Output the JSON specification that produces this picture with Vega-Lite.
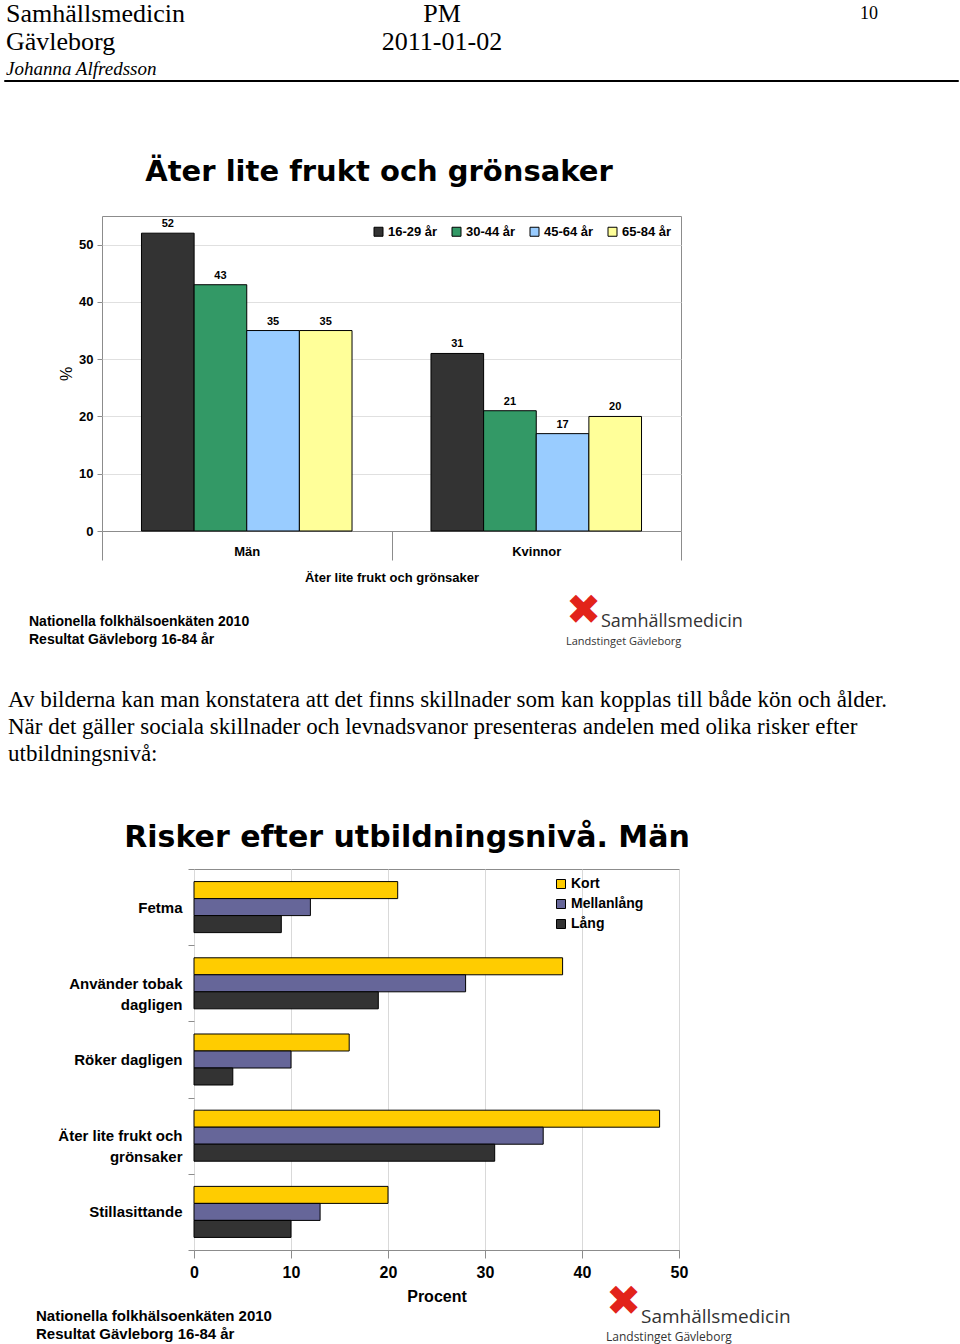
{
  "$schema": "https://vega.github.io/schema/vega-lite/v6.json",
  "padding": {"left": 3, "top": 0, "right": 0, "bottom": 0},
  "bounds": "flush",
  "spacing": 0,
  "config": {"view": {"stroke": null}, "font": "Liberation Sans"},
  "resolve": {"scale": {"color": "independent"}, "legend": {"color": "independent"}},
  "vconcat": [
    {
      "width": 954, "height": 80,
      "data": {"values": [
        {"part": "name", "col": "left", "line": 1, "text": "Samhällsmedicin"},
        {"part": "name", "col": "left", "line": 2, "text": "Gävleborg"},
        {"part": "author", "col": "left", "line": 3, "text": "Johanna Alfredsson"},
        {"part": "doc", "col": "center", "line": 1, "text": "PM"},
        {"part": "doc", "col": "center", "line": 2, "text": "2011-01-02"},
        {"part": "page", "col": "right", "line": 1, "text": "10"}
      ]},
      "encoding": {
        "x": {"field": "col", "type": "nominal", "scale": {"type": "point", "domain": ["left", "center", "right"], "range": [2, 874], "padding": 0}, "axis": null},
        "y": {"field": "line", "type": "ordinal", "scale": {"type": "point", "domain": [1, 2, 3], "range": [14, 69], "padding": 0}, "axis": null},
        "text": {"field": "text"}
      },
      "layer": [
        {"transform": [{"filter": "datum.part == 'name'"}], "mark": {"type": "text", "align": "left", "baseline": "middle", "font": "Liberation Serif", "fontSize": 26, "color": "black"}},
        {"transform": [{"filter": "datum.part == 'author'"}], "mark": {"type": "text", "align": "left", "baseline": "middle", "font": "Liberation Serif", "fontSize": 19, "fontStyle": "italic", "color": "black"}},
        {"transform": [{"filter": "datum.part == 'doc'"}], "mark": {"type": "text", "align": "center", "baseline": "middle", "font": "Liberation Serif", "fontSize": 26, "color": "black"}},
        {"transform": [{"filter": "datum.part == 'page'"}], "mark": {"type": "text", "align": "right", "baseline": "middle", "font": "Liberation Serif", "fontSize": 18, "color": "black"}}
      ]
    },
    {
      "width": 954, "height": 1,
      "data": {"values": []},
      "mark": "rect",
      "encoding": {},
      "view": {"stroke": "black", "strokeWidth": 1}
    },
    {
      "width": 954, "height": 135,
      "data": {"values": [{"col": "c", "line": 1, "text": "Äter lite frukt och grönsaker"}]},
      "mark": {"type": "text", "align": "center", "baseline": "middle", "font": "DejaVu Sans", "fontWeight": "bold", "fontSize": 29, "color": "black"},
      "encoding": {
        "x": {"field": "col", "type": "nominal", "scale": {"type": "point", "domain": ["c"], "range": [375, 375]}, "axis": null},
        "y": {"field": "line", "type": "ordinal", "scale": {"type": "point", "domain": [1], "range": [91, 91]}, "axis": null},
        "text": {"field": "text"}
      }
    },
    {
      "spacing": 0,
      "bounds": "flush",
      "resolve": {"scale": {"color": "independent"}, "legend": {"color": "independent"}},
      "hconcat": [
        {"width": 98, "height": 315, "data": {"values": []}, "mark": "rect", "encoding": {}},
        {
          "width": 579, "height": 315,
          "view": {"stroke": "#8c8c8c", "strokeWidth": 1},
          "data": {"values": [
            {"sex": "Män", "age": "16-29 år", "pct": 52},
            {"sex": "Män", "age": "30-44 år", "pct": 43},
            {"sex": "Män", "age": "45-64 år", "pct": 35},
            {"sex": "Män", "age": "65-84 år", "pct": 35},
            {"sex": "Kvinnor", "age": "16-29 år", "pct": 31},
            {"sex": "Kvinnor", "age": "30-44 år", "pct": 21},
            {"sex": "Kvinnor", "age": "45-64 år", "pct": 17},
            {"sex": "Kvinnor", "age": "65-84 år", "pct": 20}
          ]},
          "encoding": {
            "x": {"field": "sex", "type": "nominal", "sort": ["Män", "Kvinnor"], "scale": {"paddingInner": 0, "paddingOuter": 0},
              "axis": {"title": "Äter lite frukt och grönsaker", "labelAngle": 0, "tickBand": "extent", "tickSize": 29, "tickColor": "#8c8c8c", "domainColor": "#8c8c8c", "labelPadding": -15, "labelFontSize": 13, "labelFontWeight": "bold", "labelColor": "black", "titleFontSize": 13, "titleFontWeight": "bold", "titleColor": "black", "titlePadding": 11}},
            "xOffset": {"field": "age", "type": "nominal", "sort": ["16-29 år", "30-44 år", "45-64 år", "65-84 år"], "scale": {"paddingOuter": 0.75, "paddingInner": 0}},
            "y": {"field": "pct", "type": "quantitative", "scale": {"domain": [0, 55], "nice": false},
              "axis": {"values": [0, 10, 20, 30, 40, 50], "title": "%", "titleFontSize": 16, "titleFontWeight": "normal", "titleColor": "black", "titlePadding": 4, "labelFontSize": 13, "labelFontWeight": "bold", "labelColor": "black", "labelPadding": 4, "tickSize": 5, "tickColor": "#8c8c8c", "domain": false, "grid": true, "gridColor": "#e0e0e0"}}
          },
          "layer": [
            {
              "mark": {"type": "bar", "stroke": "black", "strokeWidth": 1},
              "encoding": {
                "color": {"field": "age", "type": "nominal",
                  "scale": {"domain": ["16-29 år", "30-44 år", "45-64 år", "65-84 år"], "range": ["#333333", "#339966", "#99ccff", "#ffff99"]},
                  "legend": {"orient": "top-right", "direction": "horizontal", "title": null, "offset": 9, "symbolType": "square", "symbolSize": 81, "symbolStrokeColor": "black", "symbolStrokeWidth": 1, "labelFontSize": 13, "labelFontWeight": "bold", "labelColor": "black", "columnPadding": 12, "labelOffset": 3}}
              }
            },
            {
              "mark": {"type": "text", "dy": -9, "fontSize": 11, "fontWeight": "bold", "color": "black"},
              "encoding": {"text": {"field": "pct", "type": "quantitative"}}
            }
          ]
        }
      ]
    },
    {
      "width": 954, "height": 449,
      "data": {"values": [
        {"part": "note", "col": "note", "line": 1, "text": "Nationella folkhälsoenkäten 2010"},
        {"part": "note", "col": "note", "line": 2, "text": "Resultat Gävleborg 16-84 år"},
        {"part": "sym", "col": "logo", "line": 1, "text": "✖"},
        {"part": "logo", "col": "logo", "line": 1, "text": "Samhällsmedicin"},
        {"part": "logosub", "col": "logo", "line": 2, "text": "Landstinget Gävleborg"}
      ]},
      "encoding": {
        "x": {"field": "col", "type": "nominal", "scale": {"type": "point", "domain": ["note", "logo"], "range": [25, 562], "padding": 0}, "axis": null},
        "y": {"field": "line", "type": "ordinal", "scale": {"type": "point", "domain": [1, 2], "range": [406, 424], "padding": 0}, "axis": null},
        "text": {"field": "text"}
      },
      "layer": [
        {"transform": [{"filter": "datum.part == 'note'"}], "mark": {"type": "text", "align": "left", "baseline": "middle", "fontSize": 14, "fontWeight": "bold", "color": "black"}},
        {"transform": [{"filter": "datum.part == 'sym'"}], "mark": {"type": "text", "align": "left", "baseline": "middle", "dy": -11, "font": "DejaVu Sans", "fontSize": 42, "color": "#e2231a"}},
        {"transform": [{"filter": "datum.part == 'logo'"}], "mark": {"type": "text", "align": "left", "baseline": "middle", "dx": 35, "font": "Open Sans", "fontSize": 18, "color": "#333333"}},
        {"transform": [{"filter": "datum.part == 'logosub'"}], "mark": {"type": "text", "align": "left", "baseline": "middle", "dy": 2, "font": "Open Sans", "fontSize": 11, "color": "#333333"}}
      ]
    },
    {
      "width": 954, "height": 115,
      "data": {"values": [
        {"col": "p", "line": 1, "text": "Av bilderna kan man konstatera att det finns skillnader som kan kopplas till både kön och ålder."},
        {"col": "p", "line": 2, "text": "När det gäller sociala skillnader och levnadsvanor presenteras andelen med olika risker efter"},
        {"col": "p", "line": 3, "text": "utbildningsnivå:"}
      ]},
      "mark": {"type": "text", "align": "left", "baseline": "middle", "font": "Liberation Serif", "fontSize": 23, "color": "black"},
      "encoding": {
        "x": {"field": "col", "type": "nominal", "scale": {"type": "point", "domain": ["p"], "range": [4, 4]}, "axis": null},
        "y": {"field": "line", "type": "ordinal", "scale": {"type": "point", "domain": [1, 2, 3], "range": [35, 89], "padding": 0}, "axis": null},
        "text": {"field": "text"}
      }
    },
    {
      "width": 954, "height": 89,
      "data": {"values": [{"col": "c", "line": 1, "text": "Risker efter utbildningsnivå. Män"}]},
      "mark": {"type": "text", "align": "center", "baseline": "middle", "font": "DejaVu Sans", "fontWeight": "bold", "fontSize": 30, "color": "black"},
      "encoding": {
        "x": {"field": "col", "type": "nominal", "scale": {"type": "point", "domain": ["c"], "range": [403, 403]}, "axis": null},
        "y": {"field": "line", "type": "ordinal", "scale": {"type": "point", "domain": [1], "range": [58, 58]}, "axis": null},
        "text": {"field": "text"}
      }
    },
    {
      "spacing": 0,
      "bounds": "flush",
      "resolve": {"scale": {"color": "independent"}, "legend": {"color": "independent"}},
      "hconcat": [
        {"width": 190, "height": 381, "data": {"values": []}, "mark": "rect", "encoding": {}},
        {
          "width": 485, "height": 381,
          "view": {"stroke": "#8c8c8c", "strokeWidth": 1},
          "data": {"values": [
            {"risk": "Fetma", "edu": "Kort", "pct": 21},
            {"risk": "Fetma", "edu": "Mellanlång", "pct": 12},
            {"risk": "Fetma", "edu": "Lång", "pct": 9},
            {"risk": "Använder tobak dagligen", "edu": "Kort", "pct": 38},
            {"risk": "Använder tobak dagligen", "edu": "Mellanlång", "pct": 28},
            {"risk": "Använder tobak dagligen", "edu": "Lång", "pct": 19},
            {"risk": "Röker dagligen", "edu": "Kort", "pct": 16},
            {"risk": "Röker dagligen", "edu": "Mellanlång", "pct": 10},
            {"risk": "Röker dagligen", "edu": "Lång", "pct": 4},
            {"risk": "Äter lite frukt och grönsaker", "edu": "Kort", "pct": 48},
            {"risk": "Äter lite frukt och grönsaker", "edu": "Mellanlång", "pct": 36},
            {"risk": "Äter lite frukt och grönsaker", "edu": "Lång", "pct": 31},
            {"risk": "Stillasittande", "edu": "Kort", "pct": 20},
            {"risk": "Stillasittande", "edu": "Mellanlång", "pct": 13},
            {"risk": "Stillasittande", "edu": "Lång", "pct": 10}
          ]},
          "mark": {"type": "bar", "stroke": "black", "strokeWidth": 1},
          "encoding": {
            "y": {"field": "risk", "type": "nominal", "sort": ["Fetma", "Använder tobak dagligen", "Röker dagligen", "Äter lite frukt och grönsaker", "Stillasittande"], "scale": {"paddingInner": 0, "paddingOuter": 0},
              "axis": {"title": null, "tickBand": "extent", "tickSize": 6, "tickColor": "#8c8c8c", "domain": false, "labelFontSize": 15, "labelFontWeight": "bold", "labelColor": "black", "labelPadding": 6, "labelLimit": 300, "labelLineHeight": 21,
                "labelExpr": "datum.value == 'Använder tobak dagligen' ? ['Använder tobak', 'dagligen'] : datum.value == 'Äter lite frukt och grönsaker' ? ['Äter lite frukt och', 'grönsaker'] : datum.value"}},
            "yOffset": {"field": "edu", "type": "nominal", "sort": ["Kort", "Mellanlång", "Lång"], "scale": {"paddingOuter": 0.74, "paddingInner": 0}},
            "x": {"field": "pct", "type": "quantitative", "scale": {"domain": [0, 50], "nice": false},
              "axis": {"values": [0, 10, 20, 30, 40, 50], "title": "Procent", "tickSize": 8, "tickColor": "#8c8c8c", "domainColor": "#8c8c8c", "grid": true, "gridColor": "#d9d9d9", "labelFontSize": 16, "labelFontWeight": "bold", "labelColor": "black", "labelPadding": 6, "labelFlush": false, "titleFontSize": 16, "titleFontWeight": "bold", "titleColor": "black", "titlePadding": 8}},
            "color": {"field": "edu", "type": "nominal",
              "scale": {"domain": ["Kort", "Mellanlång", "Lång"], "range": ["#ffcc00", "#666699", "#333333"]},
              "legend": {"orient": "none", "legendX": 360, "legendY": 8, "direction": "vertical", "title": null, "symbolType": "square", "symbolSize": 81, "symbolStrokeColor": "black", "symbolStrokeWidth": 1, "labelFontSize": 14, "labelFontWeight": "bold", "labelColor": "black", "rowPadding": 6, "labelOffset": 3}}
          }
        }
      ]
    },
    {
      "width": 954, "height": 475,
      "data": {"values": [
        {"part": "note", "col": "note", "line": 1, "text": "Nationella folkhälsoenkäten 2010"},
        {"part": "note", "col": "note", "line": 2, "text": "Resultat Gävleborg 16-84 år"},
        {"part": "sym", "col": "logo", "line": 1, "text": "✖"},
        {"part": "logo", "col": "logo", "line": 1, "text": "Samhällsmedicin"},
        {"part": "logosub", "col": "logo", "line": 2, "text": "Landstinget Gävleborg"}
      ]},
      "encoding": {
        "x": {"field": "col", "type": "nominal", "scale": {"type": "point", "domain": ["note", "logo"], "range": [32, 602], "padding": 0}, "axis": null},
        "y": {"field": "line", "type": "ordinal", "scale": {"type": "point", "domain": [1, 2], "range": [447, 465], "padding": 0}, "axis": null},
        "text": {"field": "text"}
      },
      "layer": [
        {"transform": [{"filter": "datum.part == 'note'"}], "mark": {"type": "text", "align": "left", "baseline": "middle", "fontSize": 15, "fontWeight": "bold", "color": "black"}},
        {"transform": [{"filter": "datum.part == 'sym'"}], "mark": {"type": "text", "align": "left", "baseline": "middle", "dy": -14, "font": "DejaVu Sans", "fontSize": 42, "color": "#e2231a"}},
        {"transform": [{"filter": "datum.part == 'logo'"}], "mark": {"type": "text", "align": "left", "baseline": "middle", "dx": 35, "dy": 1, "font": "Open Sans", "fontSize": 19, "color": "#333333"}},
        {"transform": [{"filter": "datum.part == 'logosub'"}], "mark": {"type": "text", "align": "left", "baseline": "middle", "dy": 3, "font": "Open Sans", "fontSize": 12, "color": "#333333"}}
      ]
    }
  ]
}
